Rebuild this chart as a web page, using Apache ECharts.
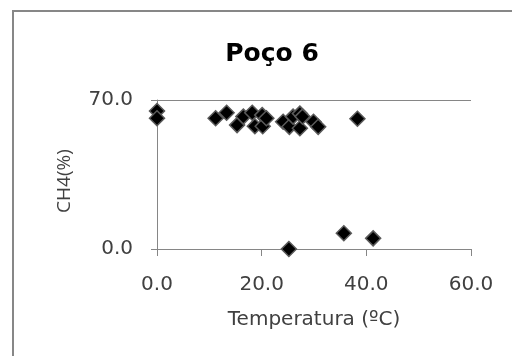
<!DOCTYPE html>
<html><head><meta charset="utf-8">
<script src="https://cdn.jsdelivr.net/npm/echarts@6/dist/echarts.min.js"></script>
<style>html,body{margin:0;padding:0;background:#fff}#c{width:512px;height:356px}</style>
</head><body><div id="c"></div>
<script>
const titleText = "Poço 6";
const xAxisName = "Temperatura (ºC)";
const yAxisName = "CH4(%)";
const temperature = [0, 0, 11.2, 13.3, 15.3, 16.5, 18.2, 18.7, 20.1, 20.2, 20.9, 24.1, 25.3, 26.0, 27.3, 27.3, 27.8, 29.9, 30.8, 38.3, 25.2, 35.7, 41.3];
const ch4 = [64.8, 61.4, 61.4, 64.0, 58.2, 62.2, 64.0, 57.7, 62.9, 57.7, 61.4, 59.8, 57.4, 62.2, 63.6, 56.7, 62.2, 59.8, 57.4, 61.2, 0, 7.4, 5.0];
const points = temperature.map((t, i) => [t, ch4[i]]);

const chart = echarts.init(document.getElementById('c'), null, {renderer: 'canvas'});
const axisGray = '#868686';
const txt = '#404040';
const wideFont = '"DejaVu Sans", "Open Sans", sans-serif';
const narrowFont = '"Open Sans", sans-serif';
chart.setOption({
  animation: false,
  backgroundColor: '#fff',
  title: {
    text: titleText, left: 267, top: 37, textAlign: 'center',
    textStyle: {fontFamily: wideFont, fontWeight: 'bold', fontSize: 25, color: '#000'}
  },
  grid: {left: 157, right: 41, top: 100, bottom: 107, containLabel: false},
  xAxis: {
    type: 'value', min: 0, max: 60, interval: 20,
    name: xAxisName, nameLocation: 'middle', nameGap: 61,
    nameTextStyle: {fontFamily: wideFont, fontSize: 20, color: txt},
    axisLine: {show: true, onZero: false, lineStyle: {color: axisGray, width: 1}},
    axisTick: {show: true, length: 7, inside: false, lineStyle: {color: axisGray}},
    axisLabel: {fontFamily: wideFont, fontSize: 20, color: txt, margin: 26, formatter: v => v.toFixed(1)},
    splitLine: {show: false}
  },
  yAxis: {
    type: 'value', min: 0, max: 70, interval: 70,
    name: yAxisName, nameLocation: 'middle', nameGap: 83, nameRotate: 90,
    nameTextStyle: {fontFamily: narrowFont, fontSize: 19, color: txt, padding: [0, 13, 0, 0]},
    axisLine: {show: true, lineStyle: {color: axisGray, width: 1}},
    axisTick: {show: true, length: 6, lineStyle: {color: axisGray}},
    axisLabel: {fontFamily: wideFont, fontSize: 20, color: txt, margin: 24, formatter: v => v.toFixed(1)},
    splitLine: {show: true, lineStyle: {color: axisGray, width: 1}}
  },
  graphic: [{
    type: 'rect', shape: {x: 13, y: 11, width: 600, height: 400},
    style: {fill: 'none', stroke: '#878787', lineWidth: 2}, silent: true, z: 100
  }],
  series: [{
    type: 'scatter', data: points, symbol: 'diamond', symbolSize: 15,
    itemStyle: {color: '#000', borderColor: '#5a5a5a', borderWidth: 1.5, opacity: 1}
  }]
});
</script></body></html>
